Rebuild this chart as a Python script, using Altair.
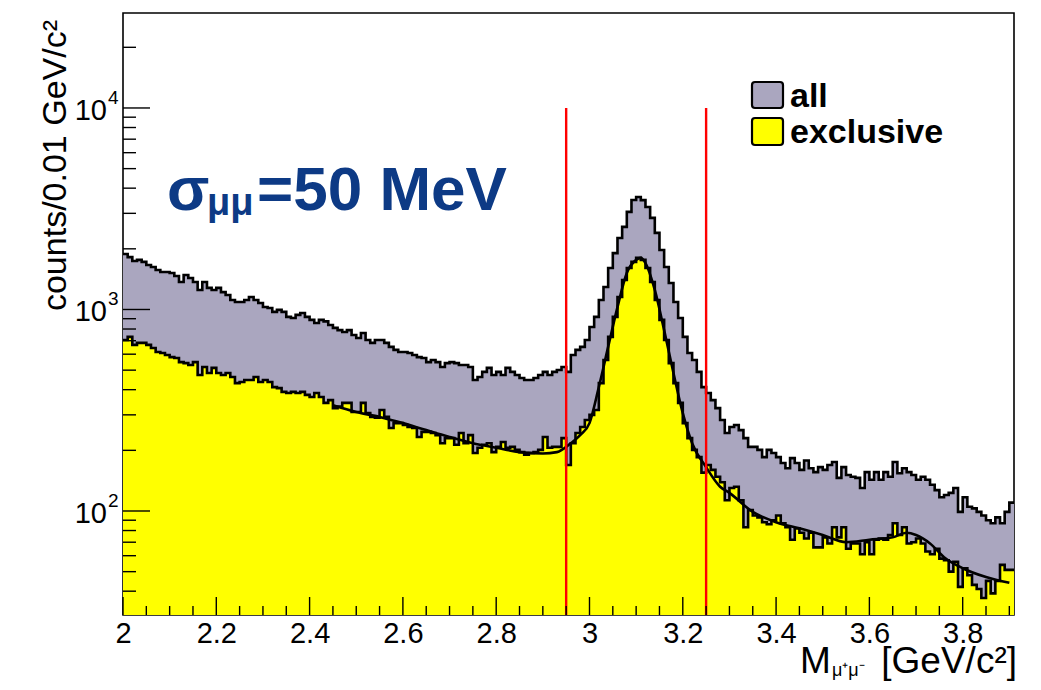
import altair as alt
import pandas as pd

# ---------------- data ----------------
x_start = 2.00          # first bin lower edge  [GeV/c^2]
bin_width = 0.01        # GeV/c^2
x_end = 3.91
y_min, y_max = 30.47, 29600

all_counts = [
    1884, 1820, 1741, 1762, 1722, 1663, 1626, 1571, 1535, 1535,
    1517, 1466, 1368, 1483, 1432, 1368, 1250, 1368, 1280, 1250,
    1280, 1220, 1180, 1114, 1089, 1089, 1114, 1153, 1114, 1077,
    1028, 1017, 973, 996, 973, 919, 908, 940, 960, 919,
    888, 857, 888, 873, 838, 810, 790, 773, 790, 747,
    722, 764, 706, 683, 706, 706, 683, 652, 630, 615,
    615, 608, 594, 580, 574, 548, 561, 548, 518, 542,
    548, 542, 530, 530, 518, 447, 462, 490, 513, 473,
    490, 473, 513, 490, 473, 457, 447, 447, 457, 473,
    490, 473, 490, 501, 518, 490, 594, 630, 652, 706,
    818, 919, 1114, 1294, 1607, 1905, 2264, 2570, 3050, 3493,
    3617, 3490, 3227, 2847, 2400, 1973, 1626, 1353, 1089, 908,
    731, 608, 561, 490, 412, 385, 355, 324, 283, 244,
    261, 267, 252, 230, 208, 208, 201, 185, 201, 194,
    185, 173, 163, 183, 173, 160, 178, 163, 156, 165,
    160, 169, 175, 146, 165, 151, 148, 146, 130, 156,
    143, 156, 143, 156, 148, 175, 154, 163, 156, 151,
    143, 148, 143, 135, 127, 117, 120, 123, 130, 99,
    117, 105, 103, 99, 95, 90, 87, 93, 87, 99,
    110,
]

exclusive_counts = [
    706, 731, 667, 683, 683, 667, 644, 615, 608, 594,
    580, 574, 548, 542, 530, 548, 473, 518, 484, 513,
    484, 473, 484, 462, 431, 437, 447, 447, 462, 437,
    447, 437, 412, 407, 390, 385, 390, 385, 390, 377,
    368, 385, 368, 344, 355, 324, 330, 344, 344, 310,
    310, 344, 306, 293, 290, 317, 293, 258, 273, 273,
    267, 261, 258, 233, 247, 247, 244, 238, 217, 230,
    230, 213, 244, 217, 238, 194, 206, 213, 217, 196,
    208, 220, 206, 208, 201, 196, 190, 194, 196, 201,
    233, 206, 208, 208, 230, 169, 217, 244, 261, 283,
    300, 317, 431, 561, 731, 919, 1153, 1400, 1607, 1722,
    1803, 1762, 1607, 1368, 1114, 888, 706, 542, 431, 344,
    273, 230, 201, 185, 155, 169, 160, 148, 139, 113,
    130, 132, 113, 83, 101, 95, 93, 88, 86, 90,
    95, 87, 83, 72, 82, 78, 73, 78, 66, 66,
    74, 69, 83, 74, 83, 65, 69, 69, 61, 70,
    61, 72, 73, 72, 76, 87, 76, 83, 69, 70,
    73, 69, 63, 61, 65, 58, 57, 50, 56, 42,
    52, 48, 43, 41, 37, 45, 39, 45, 54, 51,
    51,
]

fit_x = [2.45, 2.50, 2.55, 2.60, 2.65, 2.70, 2.75, 2.80, 2.85, 2.90, 2.93,
         2.96, 2.98, 3.00, 3.02, 3.04, 3.06, 3.08, 3.10, 3.11, 3.12, 3.14,
         3.16, 3.18, 3.20, 3.22, 3.25, 3.28, 3.30, 3.35, 3.40, 3.45, 3.50,
         3.55, 3.60, 3.65, 3.68, 3.70, 3.73, 3.76, 3.80, 3.85, 3.90]
fit_y = [335, 310, 293, 273, 252, 233, 217, 206, 196, 193, 196,
         217, 238, 273, 412, 652, 1028, 1517, 1762, 1803, 1700, 1250,
         790, 484, 306, 217, 165, 132, 123, 99, 88, 82, 76,
         70, 72, 74, 78, 76, 69, 59, 52, 47, 44]

cut_lines = [2.95, 3.25]
cut_top = 10000

x_major = [2.0, 2.2, 2.4, 2.6, 2.8, 3.0, 3.2, 3.4, 3.6, 3.8]
x_minor = [round(2.0 + 0.05 * i, 2) for i in range(1, 39) if i % 4 != 0]
y_major = [100, 1000, 10000]
y_major_exp = ["2", "3", "4"]
y_minor = [40, 50, 60, 70, 80, 90,
           200, 300, 400, 500, 600, 700, 800, 900,
           2000, 3000, 4000, 5000, 6000, 7000, 8000, 9000, 20000]

legend_labels = ["all", "exclusive"]

# ---------------- style ----------------
W, H = 891, 602
FONT = "Liberation Sans"
GREY = "#aaa6bf"
YELLOW = "#ffff00"
BLUE = "#0d3a85"

n = len(all_counts)
edges = [round(x_start + bin_width * i, 2) for i in range(n)] + [x_end]
hist = pd.DataFrame({
    "x": edges,
    "all": all_counts + [all_counts[-1]],
    "excl": exclusive_counts + [exclusive_counts[-1]],
    "bottom": [y_min] * (n + 1),
})
fit = pd.DataFrame({"x": fit_x, "y": fit_y})

xs = alt.Scale(domain=[x_start, x_end], nice=False, zero=False)
ys = alt.Scale(type="log", domain=[y_min, y_max], nice=False)

x_axis = alt.Axis(values=x_major, format="~g", labelFont=FONT, labelFontSize=29,
                  labelColor="black", labelPadding=4, ticks=False, domain=False,
                  grid=False, title=None, labelFlush=False)
y_axis = alt.Axis(labels=False, ticks=False, domain=False, grid=False, title=None)

base = alt.Chart(hist)
area_all = base.mark_area(interpolate="step-after", color=GREY, clip=True).encode(
    x=alt.X("x:Q", scale=xs, axis=x_axis),
    y=alt.Y("all:Q", scale=ys, axis=y_axis),
    y2="bottom:Q",
)
area_ex = base.mark_area(interpolate="step-after", color=YELLOW, clip=True).encode(
    x=alt.X("x:Q", scale=xs), y=alt.Y("excl:Q", scale=ys), y2="bottom:Q")
line_all = base.mark_line(interpolate="step-after", color="black", strokeWidth=2.6,
                          clip=True).encode(
    x=alt.X("x:Q", scale=xs), y=alt.Y("all:Q", scale=ys))
line_ex = base.mark_line(interpolate="step-after", color="black", strokeWidth=2.6,
                         clip=True).encode(
    x=alt.X("x:Q", scale=xs), y=alt.Y("excl:Q", scale=ys))
fit_line = alt.Chart(fit).mark_line(interpolate="monotone", color="black",
                                    strokeWidth=2.6).encode(
    x=alt.X("x:Q", scale=xs), y=alt.Y("y:Q", scale=ys))

cuts = alt.Chart(pd.DataFrame({"x": cut_lines, "top": [cut_top] * len(cut_lines)})
                 ).mark_rule(color="#ff0000", strokeWidth=2.4).encode(
    x=alt.X("x:Q", scale=xs), y=alt.Y("top:Q", scale=ys), y2=alt.value(H))

# axis ticks drawn inside the frame (ROOT style)
xt_major = alt.Chart(pd.DataFrame({"x": x_major})).mark_rule(
    color="black", strokeWidth=1.4).encode(
    x=alt.X("x:Q", scale=xs), y=alt.value(H), y2=alt.value(H - 18))
xt_minor = alt.Chart(pd.DataFrame({"x": x_minor})).mark_rule(
    color="black", strokeWidth=1.4).encode(
    x=alt.X("x:Q", scale=xs), y=alt.value(H), y2=alt.value(H - 9))
yt_major = alt.Chart(pd.DataFrame({"y": y_major})).mark_rule(
    color="black", strokeWidth=1.4).encode(
    y=alt.Y("y:Q", scale=ys), x=alt.value(0), x2=alt.value(27))
yt_minor = alt.Chart(pd.DataFrame({"y": y_minor})).mark_rule(
    color="black", strokeWidth=1.4).encode(
    y=alt.Y("y:Q", scale=ys), x=alt.value(0), x2=alt.value(13))

ylab = pd.DataFrame({"y": y_major, "base": ["10"] * 3, "exp": y_major_exp})
ylab_base = alt.Chart(ylab).mark_text(font=FONT, fontSize=29, align="right",
                                      baseline="middle", dy=3, color="black").encode(
    y=alt.Y("y:Q", scale=ys), x=alt.value(-16), text="base:N")
ylab_exp = alt.Chart(ylab).mark_text(font=FONT, fontSize=19, align="left",
                                     baseline="middle", dy=-10, dx=1, color="black").encode(
    y=alt.Y("y:Q", scale=ys), x=alt.value(-16), text="exp:N")

one = pd.DataFrame({"k": [0]})


def txt(s, x, y, size, weight="normal", color="black", align="left",
        baseline="alphabetic", angle=0):
    kw = dict(text=s, font=FONT, fontSize=size, fontWeight=weight, color=color,
              align=align, baseline=baseline)
    if angle:
        kw["angle"] = angle
    return alt.Chart(one).mark_text(**kw).encode(x=alt.value(x), y=alt.value(y))


y_title = txt("counts/0.01 GeV/c\u00b2", -57, 7, 34, align="right", angle=270)
x_title_m = txt("M", 677, 660, 37)
x_title_sub = txt("\u03bc\u207a\u03bc\u207b", 709, 663, 18)
x_title_unit = txt("[GeV/c\u00b2]", 894, 660, 37, align="right")

sig = txt("\u03c3", 44, 197, 62, weight="bold", color=BLUE)
sig_sub = txt("\u03bc\u03bc", 84, 202, 38, weight="bold", color=BLUE)
sig_rest = txt("=50 MeV", 134, 197, 62, weight="bold", color=BLUE)

leg = pd.DataFrame({"label": legend_labels, "c": [GREY, YELLOW],
                    "y0": [69, 105], "y1": [95, 132], "ty": [94, 130]})
leg_boxes = alt.Chart(leg).mark_rect(stroke="black", strokeWidth=2.2,
                                     cornerRadius=3).encode(
    x=alt.value(629), x2=alt.value(660), y=alt.Y("y0:Q", scale=None),
    y2=alt.Y2("y1:Q"), fill=alt.Color("c:N", scale=None))
leg_text = alt.Chart(leg).mark_text(font=FONT, fontSize=34, fontWeight="bold",
                                    align="left", baseline="alphabetic",
                                    color="black").encode(
    x=alt.value(667), y=alt.Y("ty:Q", scale=None), text="label:N")

chart = alt.layer(
    area_all, area_ex, line_all, line_ex, fit_line, cuts,
    xt_major, xt_minor, yt_major, yt_minor, ylab_base, ylab_exp,
    y_title, x_title_m, x_title_sub, x_title_unit,
    sig, sig_sub, sig_rest, leg_boxes, leg_text,
).properties(
    width=W, height=H,
    autosize=alt.AutoSizeParams(type="none"),
    padding={"left": 115, "top": 5, "right": 12, "bottom": 67},
    background="white",
).configure_view(stroke="black", strokeWidth=1.6)

chart.save("out.html", embed_options={"renderer": "svg", "actions": False})
